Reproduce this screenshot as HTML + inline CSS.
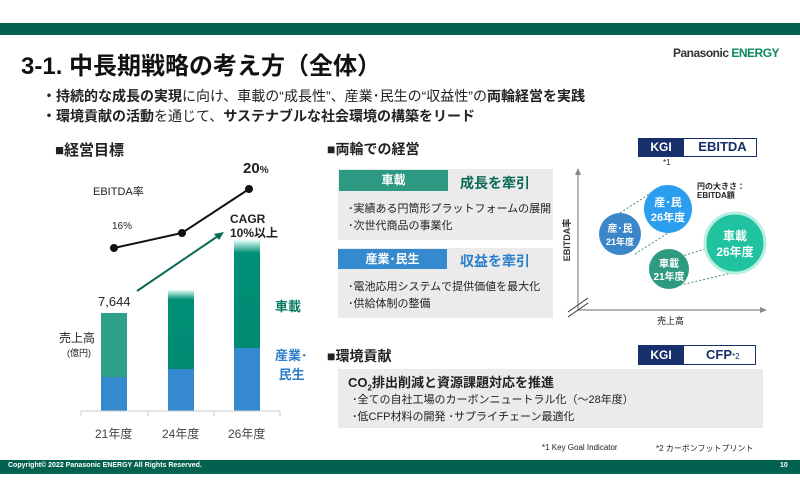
<!DOCTYPE html><html><head><meta charset="utf-8"><style>
body{margin:0;width:800px;height:499px;background:#fff;position:relative;overflow:hidden;font-family:"Liberation Sans","Noto Sans CJK JP",sans-serif;color:#222}
.a{position:absolute;white-space:nowrap}
.b{font-weight:bold}
</style></head><body>
<div class="a" style="left:0;top:23px;width:800px;height:12px;background:#03614f"></div>
<div class="a b" style="left:21px;top:46px;font-size:24px;color:#111">3-1. 中長期戦略の考え方（全体）</div>
<div class="a b" style="left:673px;top:46px;font-size:12px;color:#333;letter-spacing:-0.5px">Panasonic <span style="color:#0a8a5a">ENERGY</span></div>
<div class="a" style="left:42px;top:86px;font-size:14px"><b>・持続的な成長の実現</b>に向け、車載の“成長性”、産業･民生の“収益性”の<b>両輪経営を実践</b></div>
<div class="a" style="left:42px;top:106px;font-size:14px"><b>・環境貢献の活動</b>を通じて、<b>サステナブルな社会環境の構築をリード</b></div>

<div class="a b" style="left:55px;top:139px;font-size:15px">■経営目標</div>
<svg class="a" style="left:0;top:0" width="320" height="460">
<defs><linearGradient id="g" x1="0" y1="0" x2="0" y2="1"><stop offset="0" stop-color="#e8fff8"/><stop offset="0.12" stop-color="#009077"/><stop offset="1" stop-color="#008a72"/></linearGradient></defs>
<rect x="101" y="313" width="26" height="64" fill="#2fa08a"/><rect x="101" y="377" width="26" height="34" fill="#3589cf"/>
<rect x="168" y="290" width="26" height="79" fill="url(#g)"/><rect x="168" y="369" width="26" height="42" fill="#3589cf"/>
<rect x="234" y="240" width="26" height="108" fill="url(#g)"/><rect x="234" y="348" width="26" height="63" fill="#3589cf"/>
<line x1="81" y1="411" x2="280" y2="411" stroke="#ccc"/>
<g stroke="#ccc"><line x1="81" y1="411" x2="81" y2="416"/><line x1="148" y1="411" x2="148" y2="416"/><line x1="214" y1="411" x2="214" y2="416"/><line x1="280" y1="411" x2="280" y2="416"/></g>
<polyline points="114,248 182,233 249,189" fill="none" stroke="#111" stroke-width="2"/>
<circle cx="114" cy="248" r="4" fill="#111"/><circle cx="182" cy="233" r="4" fill="#111"/><circle cx="249" cy="189" r="4" fill="#111"/>
<line x1="137" y1="291" x2="218" y2="236" stroke="#0a6b58" stroke-width="2"/><polygon points="224,232 214,234 219,240" fill="#0a6b58"/>
</svg>
<div class="a" style="left:93px;top:183px;font-size:11px">EBITDA率</div>
<div class="a" style="left:112px;top:221px;font-size:10px">16%</div>
<div class="a b" style="left:243px;top:160px;font-size:15px">20<span style="font-size:10px">%</span></div>
<div class="a b" style="left:230px;top:212px;font-size:12px;line-height:14px">CAGR<br>10%以上</div>
<div class="a" style="left:98px;top:294px;font-size:13px">7,644</div>
<div class="a" style="left:59px;top:329px;font-size:12px">売上高</div>
<div class="a" style="left:67px;top:346px;font-size:9px">(億円)</div>
<div class="a" style="left:95px;top:425px;font-size:12px;color:#444">21年度</div>
<div class="a" style="left:162px;top:425px;font-size:12px;color:#444">24年度</div>
<div class="a" style="left:228px;top:425px;font-size:12px;color:#444">26年度</div>
<div class="a b" style="left:275px;top:296px;font-size:13px;color:#0a7a62">車載</div>
<div class="a b" style="left:275px;top:346px;font-size:13px;color:#2c7fcb;line-height:19px">産業･<br>&nbsp;民生</div>

<div class="a b" style="left:327px;top:139px;font-size:14px">■両輪での経営</div>
<div class="a" style="left:338px;top:169px;width:215px;height:71px;background:#ebebeb"></div>
<div class="a b" style="left:339px;top:170px;width:109px;height:21px;background:#2f9a84;color:#fff;font-size:12px;text-align:center;line-height:21px">車載</div>
<div class="a b" style="left:460px;top:173px;font-size:14px;color:#0a6b58">成長を牽引</div>
<div class="a" style="left:348px;top:201px;font-size:11px;line-height:17px">･実績ある円筒形プラットフォームの展開<br>･次世代商品の事業化</div>
<div class="a" style="left:338px;top:248px;width:215px;height:70px;background:#ebebeb"></div>
<div class="a b" style="left:338px;top:249px;width:109px;height:20px;background:#3589cf;color:#fff;font-size:12px;text-align:center;line-height:20px">産業･民生</div>
<div class="a b" style="left:460px;top:251px;font-size:14px;color:#2c7fcb">収益を牽引</div>
<div class="a" style="left:348px;top:279px;font-size:11px;line-height:17px">･電池応用システムで提供価値を最大化<br>･供給体制の整備</div>

<div class="a" style="left:638px;top:138px;width:117px;height:17px;border:1px solid #17306b;background:#fff"></div>
<div class="a b" style="left:638px;top:138px;width:46px;height:19px;background:#17306b;color:#fff;font-size:12px;text-align:center;line-height:19px">KGI</div>
<div class="a b" style="left:690px;top:139px;font-size:13px;color:#17306b;width:65px;text-align:center">EBITDA</div>
<div class="a" style="left:663px;top:158px;font-size:8px">*1</div>
<svg class="a" style="left:540px;top:160px" width="260" height="170">
<g stroke="#888" stroke-width="1.2"><line x1="38" y1="150" x2="38" y2="12"/><line x1="38" y1="150" x2="223" y2="150"/></g>
<polygon points="38,8 35,15 41,15" fill="#888"/><polygon points="227,150 220,147 220,153" fill="#888"/>
<g stroke="#333"><line x1="28" y1="152" x2="48" y2="138"/><line x1="28" y1="157" x2="48" y2="143"/></g>
<g stroke="#4a8a78" stroke-dasharray="2,2"><line x1="80" y1="53" x2="123" y2="25"/><line x1="95" y1="94" x2="128" y2="73"/><line x1="129" y1="100" x2="185" y2="83"/><line x1="132" y1="127" x2="200" y2="111"/></g>
<circle cx="80" cy="74" r="21" fill="#3b86c9"/><circle cx="128" cy="49" r="24" fill="#2b9ef0"/>
<circle cx="129" cy="109" r="20" fill="#2e9a80"/><circle cx="195" cy="83" r="30" fill="#20c2a0" stroke="#b8eee0" stroke-width="3"/>
<g fill="#fff" font-weight="bold" text-anchor="middle" font-family="Liberation Sans,Noto Sans CJK JP,sans-serif">
<text x="80" y="72" font-size="10">産･民</text><text x="80" y="85" font-size="9">21年度</text>
<text x="128" y="46" font-size="11">産･民</text><text x="128" y="61" font-size="11">26年度</text>
<text x="129" y="107" font-size="10">車載</text><text x="129" y="120" font-size="10">21年度</text>
<text x="195" y="80" font-size="12">車載</text><text x="195" y="96" font-size="12">26年度</text></g>
<text x="30" y="80" font-size="9" font-weight="bold" fill="#333" transform="rotate(-90 30 80)" text-anchor="middle" font-family="Liberation Sans,Noto Sans CJK JP,sans-serif">EBITDA率</text>
</svg>
<div class="a b" style="left:697px;top:182px;font-size:8px;line-height:9px">円の大きさ：<br>EBITDA額</div>
<div class="a" style="left:657px;top:314px;font-size:9px">売上高</div>

<div class="a b" style="left:327px;top:346px;font-size:14px">■環境貢献</div>
<div class="a" style="left:638px;top:345px;width:116px;height:18px;border:1px solid #17306b;background:#fff"></div>
<div class="a b" style="left:638px;top:345px;width:46px;height:20px;background:#17306b;color:#fff;font-size:12px;text-align:center;line-height:20px">KGI</div>
<div class="a b" style="left:706px;top:347px;font-size:13px;color:#17306b">CFP<span style="font-size:8px;font-weight:normal">*2</span></div>
<div class="a" style="left:338px;top:369px;width:425px;height:59px;background:#ebebeb"></div>
<div class="a b" style="left:348px;top:372px;font-size:13px">CO<sub style="font-size:8px">2</sub>排出削減と資源課題対応を推進</div>
<div class="a" style="left:352px;top:392px;font-size:11px;line-height:17px">･全ての自社工場のカーボンニュートラル化（～28年度）<br>･低CFP材料の開発 ･サプライチェーン最適化</div>
<div class="a" style="left:542px;top:443px;font-size:8px">*1 Key Goal Indicator</div>
<div class="a" style="left:656px;top:443px;font-size:8px">*2 カーボンフットプリント</div>

<div class="a" style="left:0;top:460px;width:800px;height:14px;background:#03614f"></div>
<div class="a b" style="left:8px;top:462px;font-size:7px;color:#fff">Copyright© 2022 Panasonic ENERGY All Rights Reserved.</div>
<div class="a b" style="left:780px;top:462px;font-size:7px;color:#fff">10</div>
</body></html>
